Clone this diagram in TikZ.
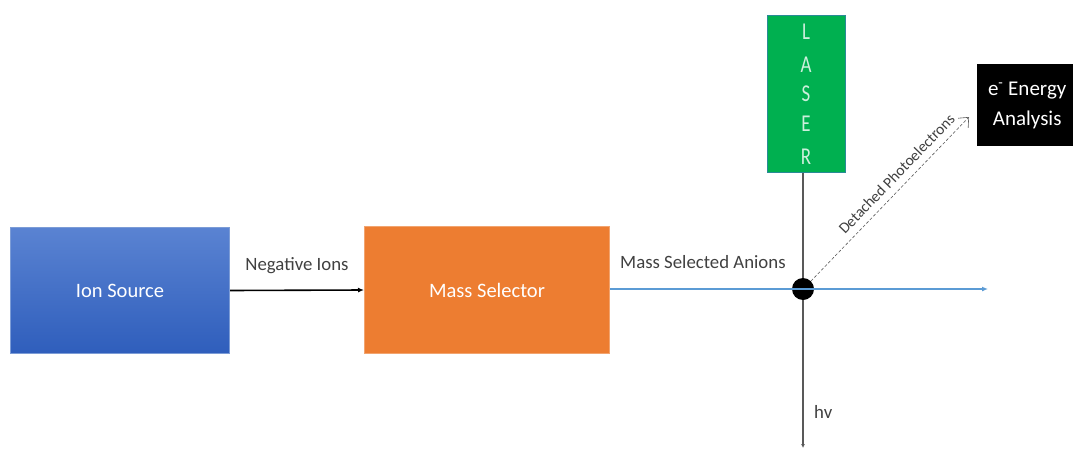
\documentclass[tikz,border=0pt]{standalone}
\usepackage{fontspec}
\setmainfont{Carlito}
\usetikzlibrary{arrows.meta,positioning}
\definecolor{ionblue}{HTML}{4472C4}
\definecolor{ionbluetop}{HTML}{5A83D2}
\definecolor{ionbluebot}{HTML}{2F5EBC}
\definecolor{massorange}{HTML}{ED7D31}
\definecolor{lasergreen}{HTML}{00B050}
\definecolor{beamblue}{HTML}{5B9BD5}
\definecolor{labelgray}{HTML}{404040}
\definecolor{linegray}{HTML}{595959}
\tikzset{
  block/.style={draw=#1!70!white, line width=1pt, minimum height=126pt, inner sep=0pt,
     text=white, font=\fontsize{20.5}{24}\selectfont},
  lbl/.style={text=labelgray, inner sep=0pt, font=\fontsize{18.8}{22}\selectfont},
  laserletter/.style={text=white!80!lasergreen, inner sep=0pt, font=\fontsize{21}{24}\selectfont},
}
\begin{document}
\begin{tikzpicture}[x=1pt,y=-1pt]
\useasboundingbox (0,0) rectangle (1073,452);
% Ion source
\node[block=ionblue, top color=ionbluetop, bottom color=ionbluebot, minimum width=219pt, anchor=north west] (ion) at (10,227) {Ion Source};
% Mass selector
\node[block=massorange, fill=massorange, minimum width=245pt, minimum height=127pt, anchor=north west] (mass) at (364,226) {Mass Selector};
% Laser
\node[draw=ionblue!60!lasergreen, fill=lasergreen, line width=0.8pt, minimum width=78pt, minimum height=157pt, inner sep=0pt, anchor=north west] (laser) at (767,15) {};
\foreach \ch/\yy in {L/32, A/65, S/94, E/124, R/157}
  \node[laserletter] at (806,\yy) {\scalebox{0.9}[1.15]{\ch}};
% Energy analysis
\node[fill=black, minimum width=100pt, minimum height=82pt, inner sep=0pt, anchor=north west, text=white, align=center, font=\fontsize{21}{30}\selectfont] (ea) at (977,64) {e\textsuperscript{-} Energy\\Analysis};
% Interaction point
\node[circle, fill=black, minimum size=22pt, inner sep=0pt] (dot) at (803,289) {};
\coordinate (beamend) at (988,289);
\coordinate (hvend) at (803,448);
\coordinate (petip) at (969,117);
% connectors
\draw[black, line width=1.6pt, -{Latex[length=6pt,width=5pt]}] (ion.east) -- (mass.west)
  node[lbl, midway, above=16pt] {Negative Ions};
\draw[beamblue, line width=1.4pt, -{Latex[length=6pt,width=5pt]}] (mass.east |- dot) -- (beamend);
\node[lbl, anchor=base west] (msa) at (620,268) {Mass Selected Anions};
\draw[linegray, line width=1.6pt] (dot |- laser.south) -- (dot);
\draw[linegray, line width=1.6pt, -{Latex[length=4pt,width=4pt]}] (dot) -- (hvend);
\node[lbl, anchor=base west] (hv) at (814,418) {hv};
\draw[linegray, densely dashed, line width=0.6pt, -{Straight Barb[length=8pt,width=14pt]}] (dot.north east) -- (petip)
  node[pos=0.6, sloped, above=7pt, text=labelgray, inner sep=0pt, font=\fontsize{15.5}{18}\selectfont] {Detached Photoelectrons};
\end{tikzpicture}
\end{document}
